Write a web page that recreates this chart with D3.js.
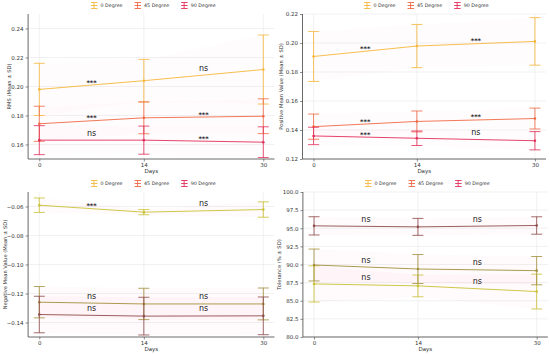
<!DOCTYPE html>
<html><head><meta charset="utf-8">
<script src="https://cdn.jsdelivr.net/npm/d3@7"></script>
<style>body{margin:0;background:#fff}svg{display:block}</style>
</head><body>
<svg id="c" width="550" height="354"></svg>
<script>
const days = [0, 14, 30];
const seriesNames = ["0 Degree", "45 Degree", "90 Degree"];

// RMS
const rms0 = [0.198, 0.204, 0.2117], rms0Sd = [0.018, 0.0147, 0.0238];
const rms45 = [0.1743, 0.1784, 0.1795], rms45Sd = [0.0121, 0.011, 0.012];
const rms90 = [0.163, 0.163, 0.1616], rms90Sd = [0.010, 0.0097, 0.0106];
const rmsSig = [["***", "ns"], ["***", "***"], ["ns", "***"]];
const rmsTicks = [0.16, 0.18, 0.20, 0.22, 0.24];

// Positive mean value
const pos0 = [0.1907, 0.1979, 0.2011], pos0Sd = [0.0172, 0.0149, 0.0164];
const pos45 = [0.1423, 0.1459, 0.1479], pos45Sd = [0.0087, 0.0072, 0.0072];
const pos90 = [0.1359, 0.1343, 0.1326], pos90Sd = [0.006, 0.005, 0.0063];
const posSig = [["***", "***"], ["***", "***"], ["***", "ns"]];
const posTicks = [0.12, 0.14, 0.16, 0.18, 0.20, 0.22];

// Negative mean value
const neg0 = [-0.0591, -0.0639, -0.0621], neg0Sd = [0.005, 0.0018, 0.0053];
const neg45 = [-0.126, -0.1272, -0.1272], neg45Sd = [0.0108, 0.0108, 0.011];
const neg90 = [-0.1345, -0.1356, -0.1354], neg90Sd = [0.0126, 0.013, 0.013];
const negSig = [["***", "ns"], ["ns", "ns"], ["ns", "ns"]];
const negTicks = [-0.14, -0.12, -0.10, -0.08, -0.06];

// Tolerance
const tol0 = [87.32, 87.05, 86.27], tol0Sd = [2.5, 1.5, 2.4];
const tol45 = [89.93, 89.38, 89.15], tol45Sd = [2.2, 2.0, 1.95];
const tol90 = [95.33, 95.19, 95.38], tol90Sd = [1.26, 1.17, 1.2];
const tolSig = [["ns", "ns"], ["ns", "ns"], ["ns", "ns"]];
const tolTicks = [80, 82.5, 85, 87.5, 90, 92.5, 95, 97.5, 100];

const legendColors = ["#f6b73c", "#f06a45", "#e3305a"];
const topLine = ["#f6b73c", "#f06a45", "#e3305a"];
const bottomLine = ["#c9c235", "#a3903c", "#8e4c4c"];

const panels = [
  {means:[rms0,rms45,rms90], sds:[rms0Sd,rms45Sd,rms90Sd], sig:rmsSig, ticks:rmsTicks, dom:[0.15,0.25], fmt:".2f",
   label:"RMS (Mean ± SD)", x:[28.1,274.5], y:[14,159], labX:10, colors:topLine, legX:91, band:0.02},
  {means:[pos0,pos45,pos90], sds:[pos0Sd,pos45Sd,pos90Sd], sig:posSig, ticks:posTicks, dom:[0.12,0.22], fmt:".2f",
   label:"Positive Mean Value (Mean ± SD)", x:[302.5,546], y:[14,159], labX:281.5, colors:topLine, legX:364, band:0.02},
  {means:[neg0,neg45,neg90], sds:[neg0Sd,neg45Sd,neg90Sd], sig:negSig, ticks:negTicks, dom:[-0.15,-0.05], fmt:".2f",
   label:"Negative Mean Value (Mean ± SD)", x:[28.1,274.5], y:[192,337], labX:6, colors:bottomLine, legX:91, band:0.035},
  {means:[tol0,tol45,tol90], sds:[tol0Sd,tol45Sd,tol90Sd], sig:tolSig, ticks:tolTicks, dom:[80,100], fmt:".1f",
   label:"Tolerance (% ± SD)", x:[302.9,547.8], y:[192,337], labX:280, colors:bottomLine, legX:365, band:0.035}
];

const svg = d3.select("#c");
const FONT = "DejaVu Sans, sans-serif";

panels.forEach(p => {
  const g = svg.append("g");
  const x = d3.scaleLinear().domain([-1.5, 31.5]).range(p.x);
  const y = d3.scaleLinear().domain(p.dom).range([p.y[1], p.y[0]]);

  // grid
  g.append("g").selectAll("line").data(p.ticks).join("line")
    .attr("x1", p.x[0]).attr("x2", p.x[1]).attr("y1", d => y(d)).attr("y2", d => y(d))
    .attr("stroke", "#e8e8e8").attr("stroke-width", 0.6);
  g.append("g").selectAll("line").data(days).join("line")
    .attr("x1", d => x(d)).attr("x2", d => x(d)).attr("y1", p.y[0]).attr("y2", p.y[1])
    .attr("stroke", "#e8e8e8").attr("stroke-width", 0.6);

  // faint bands
  p.means.forEach((m, si) => {
    const sd = p.sds[si];
    const area = d3.area().x((d, i) => x(days[i])).y0((d, i) => y(d - sd[i])).y1((d, i) => y(d + sd[i]));
    g.append("path").datum(m).attr("d", area).attr("fill", "#ff7fa8").attr("opacity", p.band);
  });

  // axes
  const ya = d3.axisLeft(y).tickValues(p.ticks).tickFormat(d3.format(p.fmt)).tickSize(2.5).tickPadding(2);
  const xa = d3.axisBottom(x).tickValues(days).tickFormat(d3.format("d")).tickSize(2.5).tickPadding(2);
  const gy = g.append("g").attr("transform", `translate(${p.x[0]},0)`).call(ya);
  const gx = g.append("g").attr("transform", `translate(0,${p.y[1]})`).call(xa);
  [gy, gx].forEach(a => {
    a.select(".domain").attr("stroke", "#444").attr("stroke-width", 0.8);
    a.selectAll(".tick line").attr("stroke", "#444").attr("stroke-width", 0.6);
    a.selectAll(".tick text").attr("font-family", FONT).attr("font-size", 5.5).attr("fill", "#333");
  });
  gy.select(".domain").attr("d", `M0,${p.y[0]}V${p.y[1]}`);
  gx.select(".domain").attr("d", `M${p.x[0]},0H${p.x[1]}`);

  // labels
  g.append("text").attr("x", (x(0) + x(30)) / 2).attr("y", p.y[1] + 13.5).attr("text-anchor", "middle")
    .attr("font-family", FONT).attr("font-size", 5.5).attr("fill", "#333").text("Days");
  g.append("text").attr("transform", `translate(${p.labX},${(p.y[0] + p.y[1]) / 2}) rotate(-90)`)
    .attr("text-anchor", "middle").attr("dominant-baseline", "middle")
    .attr("font-family", FONT).attr("font-size", 5.2).attr("fill", "#333").text(p.label);

  // series
  p.means.forEach((m, si) => {
    const c = p.colors[si], sd = p.sds[si];
    const line = d3.line().x((d, i) => x(days[i])).y(d => y(d));
    g.append("path").datum(m).attr("d", line).attr("fill", "none").attr("stroke", c).attr("stroke-width", 1).attr("opacity", 0.9);
    m.forEach((v, i) => {
      const cx = x(days[i]);
      g.append("line").attr("x1", cx).attr("x2", cx).attr("y1", y(v - sd[i])).attr("y2", y(v + sd[i]))
        .attr("stroke", c).attr("stroke-width", 0.9).attr("opacity", 0.9);
      [v - sd[i], v + sd[i]].forEach(e => {
        g.append("line").attr("x1", cx - 5.5).attr("x2", cx + 5.5).attr("y1", y(e)).attr("y2", y(e))
          .attr("stroke", c).attr("stroke-width", 0.9).attr("opacity", 0.9);
      });
      g.append("circle").attr("cx", cx).attr("cy", y(v)).attr("r", 1.3).attr("fill", c);
    });
    // significance labels
    p.sig[si].forEach((s, k) => {
      const mid = (m[k] + m[k + 1]) / 2;
      const dx = (days[k] + days[k + 1]) / 2;
      const t = g.append("text").attr("x", x(dx)).attr("text-anchor", "middle").attr("font-family", FONT).attr("fill", "#222");
      if (s === "ns") t.attr("y", y(mid) - 4.5).attr("font-size", 8).text(s);
      else t.attr("y", y(mid) - 0.5).attr("font-size", 6.5).attr("font-weight", "bold").text(s);
    });
  });

  // legend
  const lg = g.append("g").attr("transform", `translate(${p.legX},${p.y[0] - 8.5})`);
  let off = 0;
  seriesNames.forEach((n, si) => {
    const c = legendColors[si];
    const it = lg.append("g").attr("transform", `translate(${off},0)`);
    it.append("line").attr("x1", 3).attr("x2", 3).attr("y1", -3).attr("y2", 3).attr("stroke", c).attr("stroke-width", 0.9);
    [-3, 3, 0].forEach(yy => it.append("line").attr("x1", 0).attr("x2", 6.5).attr("y1", yy).attr("y2", yy).attr("stroke", c).attr("stroke-width", 0.9));
    const t = it.append("text").attr("x", 9.5).attr("y", 1.8).attr("font-family", FONT).attr("font-size", 4.8).attr("fill", "#333").text(n);
    off += 9.5 + t.node().getComputedTextLength() + 12;
  });
});
</script>
</body></html>
